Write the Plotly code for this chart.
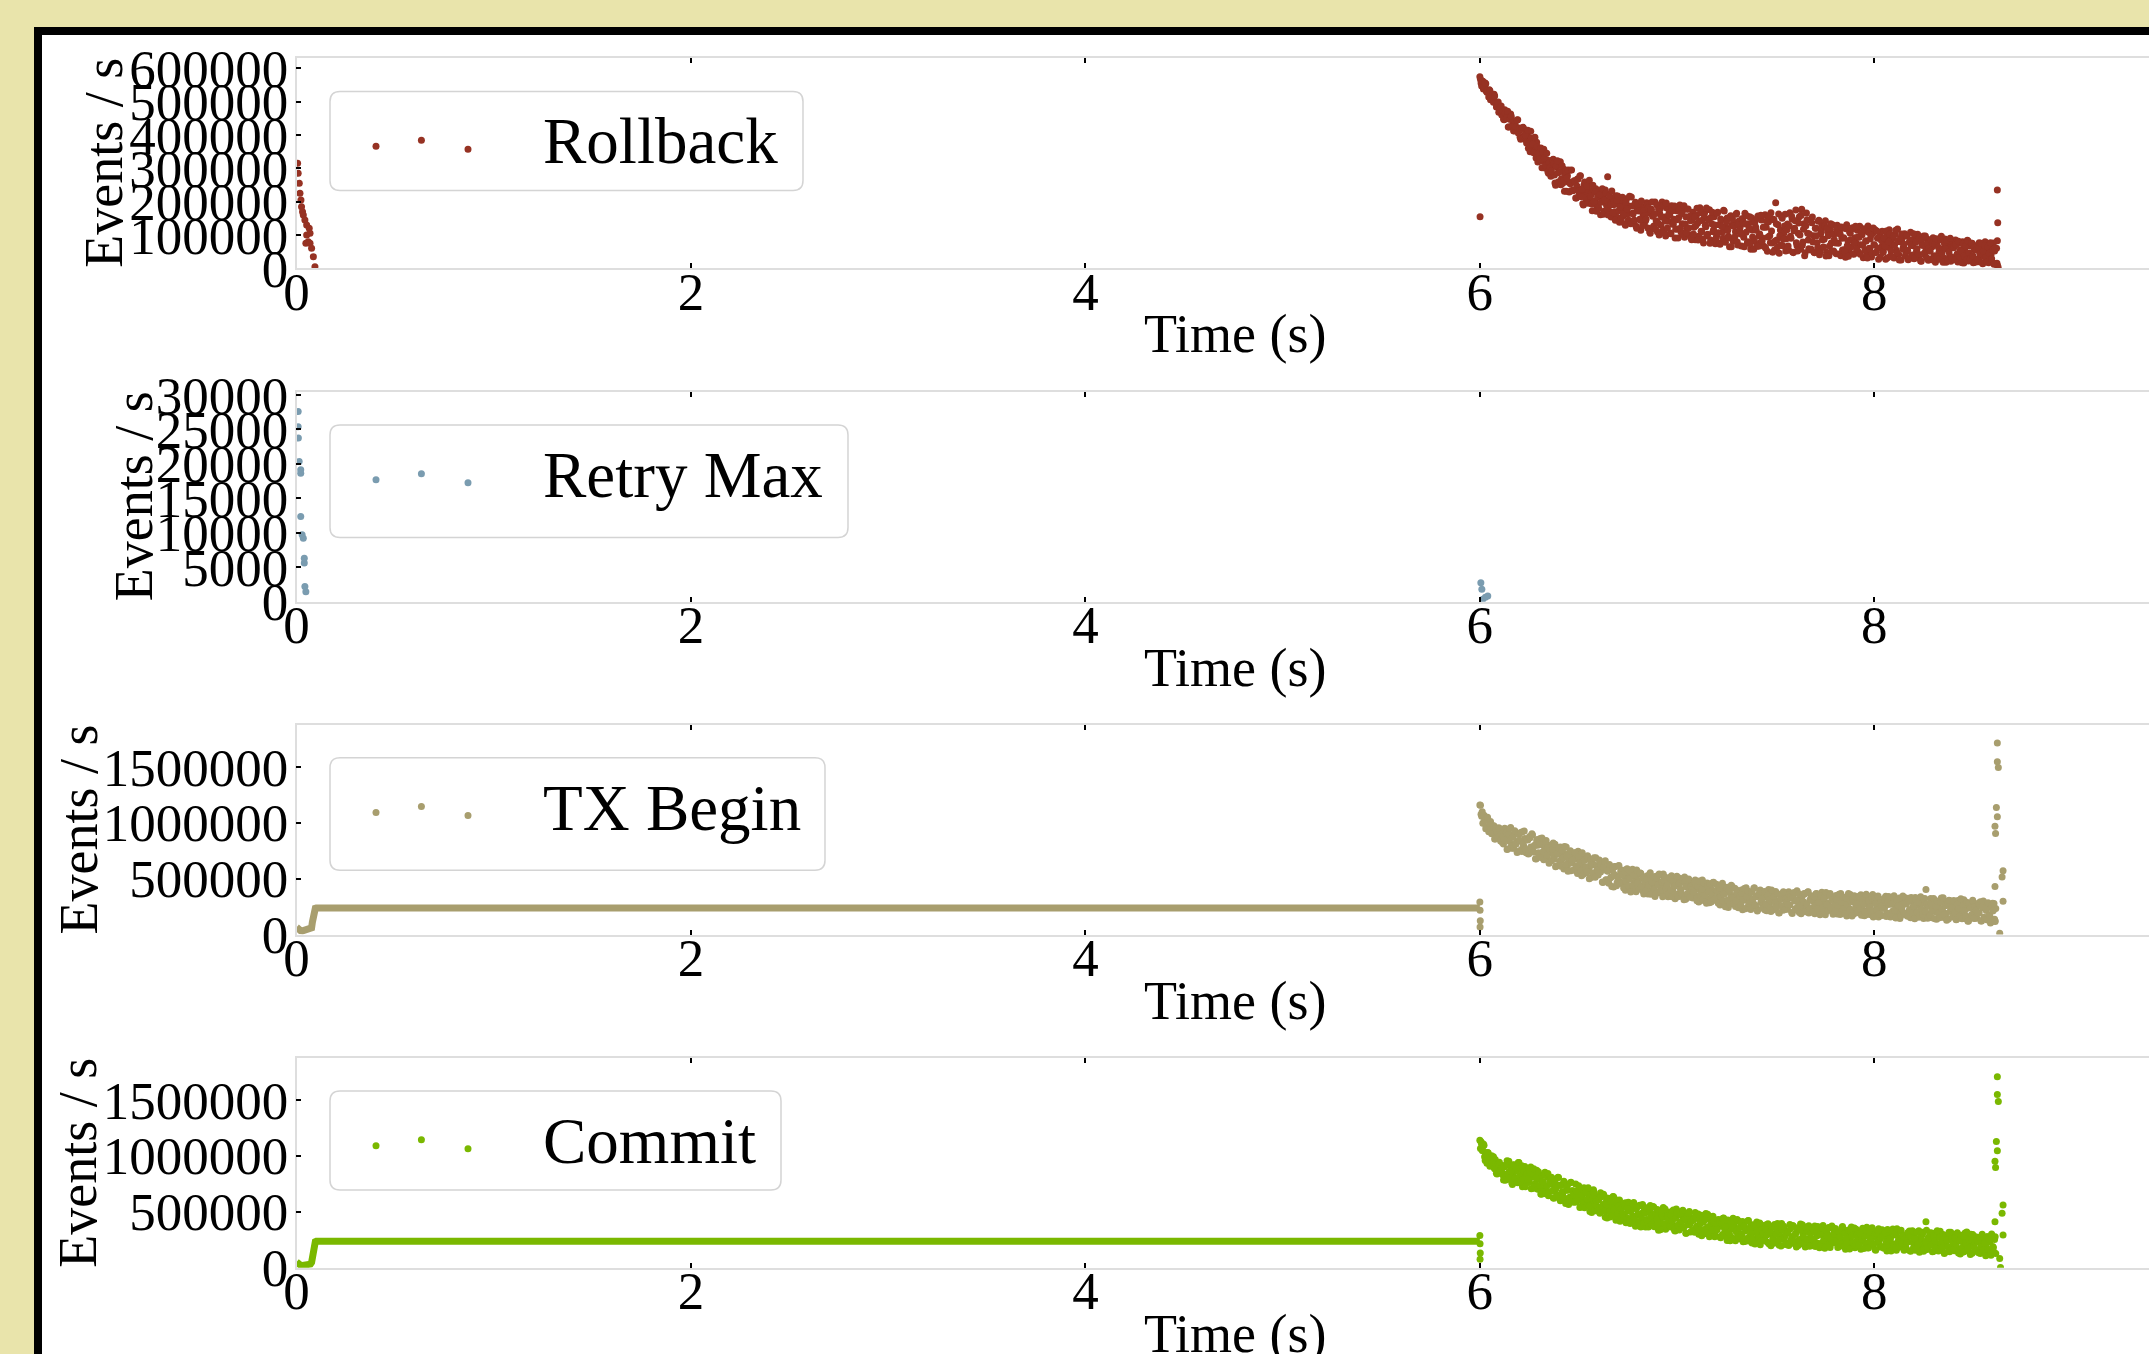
import plotly.graph_objects as go

# ---------------------------------------------------------------- data ---
SERIES = ["Rollback", "Retry Max", "TX Begin", "Commit"]

# Sample times of the post-restart burst (milliseconds). Two interleaved
# sampling grids are recorded for the Rollback / TX Begin / Commit rates.
CLOUD_T_MS = [
    6000, 6006, 6012, 6018, 6024, 6030, 6036, 6042, 6048, 6054, 6060, 6066, 6072, 6078, 6084, 6090, 6096, 6102, 6108, 6114,
    6120, 6126, 6132, 6138, 6144, 6150, 6156, 6162, 6168, 6174, 6180, 6186, 6192, 6198, 6204, 6210, 6216, 6222, 6228, 6234,
    6240, 6246, 6252, 6258, 6264, 6270, 6276, 6282, 6288, 6294, 6300, 6306, 6312, 6318, 6324, 6330, 6336, 6342, 6348, 6354,
    6360, 6366, 6372, 6378, 6384, 6390, 6396, 6402, 6408, 6414, 6420, 6426, 6432, 6438, 6444, 6450, 6456, 6462, 6468, 6474,
    6480, 6486, 6492, 6498, 6504, 6510, 6516, 6522, 6528, 6534, 6540, 6546, 6552, 6558, 6564, 6570, 6576, 6582, 6588, 6594,
    6600, 6606, 6612, 6618, 6624, 6630, 6636, 6642, 6648, 6654, 6660, 6666, 6672, 6678, 6684, 6690, 6696, 6702, 6708, 6714,
    6720, 6726, 6732, 6738, 6744, 6750, 6756, 6762, 6768, 6774, 6780, 6786, 6792, 6798, 6804, 6810, 6816, 6822, 6828, 6834,
    6840, 6846, 6852, 6858, 6864, 6870, 6876, 6882, 6888, 6894, 6900, 6906, 6912, 6918, 6924, 6930, 6936, 6942, 6948, 6954,
    6960, 6966, 6972, 6978, 6984, 6990, 6996, 7002, 7008, 7014, 7020, 7026, 7032, 7038, 7044, 7050, 7056, 7062, 7068, 7074,
    7080, 7086, 7092, 7098, 7104, 7110, 7116, 7122, 7128, 7134, 7140, 7146, 7152, 7158, 7164, 7170, 7176, 7182, 7188, 7194,
    7200, 7206, 7212, 7218, 7224, 7230, 7236, 7242, 7248, 7254, 7260, 7266, 7272, 7278, 7284, 7290, 7296, 7302, 7308, 7314,
    7320, 7326, 7332, 7338, 7344, 7350, 7356, 7362, 7368, 7374, 7380, 7386, 7392, 7398, 7404, 7410, 7416, 7422, 7428, 7434,
    7440, 7446, 7452, 7458, 7464, 7470, 7476, 7482, 7488, 7494, 7500, 7506, 7512, 7518, 7524, 7530, 7536, 7542, 7548, 7554,
    7560, 7566, 7572, 7578, 7584, 7590, 7596, 7602, 7608, 7614, 7620, 7626, 7632, 7638, 7644, 7650, 7656, 7662, 7668, 7674,
    7680, 7686, 7692, 7698, 7704, 7710, 7716, 7722, 7728, 7734, 7740, 7746, 7752, 7758, 7764, 7770, 7776, 7782, 7788, 7794,
    7800, 7806, 7812, 7818, 7824, 7830, 7836, 7842, 7848, 7854, 7860, 7866, 7872, 7878, 7884, 7890, 7896, 7902, 7908, 7914,
    7920, 7926, 7932, 7938, 7944, 7950, 7956, 7962, 7968, 7974, 7980, 7986, 7992, 7998, 8004, 8010, 8016, 8022, 8028, 8034,
    8040, 8046, 8052, 8058, 8064, 8070, 8076, 8082, 8088, 8094, 8100, 8106, 8112, 8118, 8124, 8130, 8136, 8142, 8148, 8154,
    8160, 8166, 8172, 8178, 8184, 8190, 8196, 8202, 8208, 8214, 8220, 8226, 8232, 8238, 8244, 8250, 8256, 8262, 8268, 8274,
    8280, 8286, 8292, 8298, 8304, 8310, 8316, 8322, 8328, 8334, 8340, 8346, 8352, 8358, 8364, 8370, 8376, 8382, 8388, 8394,
    8400, 8406, 8412, 8418, 8424, 8430, 8436, 8442, 8448, 8454, 8460, 8466, 8472, 8478, 8484, 8490, 8496, 8502, 8508, 8514,
    8520, 8526, 8532, 8538, 8544, 8550, 8556, 8562, 8568, 8574, 8580, 8586, 8592, 8598, 8604, 8610, 8616,
]
CLOUD_T2_MS = [
    6003, 6009, 6015, 6021, 6027, 6033, 6039, 6045, 6051, 6057, 6063, 6069, 6075, 6081, 6087, 6093, 6099, 6105, 6111, 6117,
    6123, 6129, 6135, 6141, 6147, 6153, 6159, 6165, 6171, 6177, 6183, 6189, 6195, 6201, 6207, 6213, 6219, 6225, 6231, 6237,
    6243, 6249, 6255, 6261, 6267, 6273, 6279, 6285, 6291, 6297, 6303, 6309, 6315, 6321, 6327, 6333, 6339, 6345, 6351, 6357,
    6363, 6369, 6375, 6381, 6387, 6393, 6399, 6405, 6411, 6417, 6423, 6429, 6435, 6441, 6447, 6453, 6459, 6465, 6471, 6477,
    6483, 6489, 6495, 6501, 6507, 6513, 6519, 6525, 6531, 6537, 6543, 6549, 6555, 6561, 6567, 6573, 6579, 6585, 6591, 6597,
    6603, 6609, 6615, 6621, 6627, 6633, 6639, 6645, 6651, 6657, 6663, 6669, 6675, 6681, 6687, 6693, 6699, 6705, 6711, 6717,
    6723, 6729, 6735, 6741, 6747, 6753, 6759, 6765, 6771, 6777, 6783, 6789, 6795, 6801, 6807, 6813, 6819, 6825, 6831, 6837,
    6843, 6849, 6855, 6861, 6867, 6873, 6879, 6885, 6891, 6897, 6903, 6909, 6915, 6921, 6927, 6933, 6939, 6945, 6951, 6957,
    6963, 6969, 6975, 6981, 6987, 6993, 6999, 7005, 7011, 7017, 7023, 7029, 7035, 7041, 7047, 7053, 7059, 7065, 7071, 7077,
    7083, 7089, 7095, 7101, 7107, 7113, 7119, 7125, 7131, 7137, 7143, 7149, 7155, 7161, 7167, 7173, 7179, 7185, 7191, 7197,
    7203, 7209, 7215, 7221, 7227, 7233, 7239, 7245, 7251, 7257, 7263, 7269, 7275, 7281, 7287, 7293, 7299, 7305, 7311, 7317,
    7323, 7329, 7335, 7341, 7347, 7353, 7359, 7365, 7371, 7377, 7383, 7389, 7395, 7401, 7407, 7413, 7419, 7425, 7431, 7437,
    7443, 7449, 7455, 7461, 7467, 7473, 7479, 7485, 7491, 7497, 7503, 7509, 7515, 7521, 7527, 7533, 7539, 7545, 7551, 7557,
    7563, 7569, 7575, 7581, 7587, 7593, 7599, 7605, 7611, 7617, 7623, 7629, 7635, 7641, 7647, 7653, 7659, 7665, 7671, 7677,
    7683, 7689, 7695, 7701, 7707, 7713, 7719, 7725, 7731, 7737, 7743, 7749, 7755, 7761, 7767, 7773, 7779, 7785, 7791, 7797,
    7803, 7809, 7815, 7821, 7827, 7833, 7839, 7845, 7851, 7857, 7863, 7869, 7875, 7881, 7887, 7893, 7899, 7905, 7911, 7917,
    7923, 7929, 7935, 7941, 7947, 7953, 7959, 7965, 7971, 7977, 7983, 7989, 7995, 8001, 8007, 8013, 8019, 8025, 8031, 8037,
    8043, 8049, 8055, 8061, 8067, 8073, 8079, 8085, 8091, 8097, 8103, 8109, 8115, 8121, 8127, 8133, 8139, 8145, 8151, 8157,
    8163, 8169, 8175, 8181, 8187, 8193, 8199, 8205, 8211, 8217, 8223, 8229, 8235, 8241, 8247, 8253, 8259, 8265, 8271, 8277,
    8283, 8289, 8295, 8301, 8307, 8313, 8319, 8325, 8331, 8337, 8343, 8349, 8355, 8361, 8367, 8373, 8379, 8385, 8391, 8397,
    8403, 8409, 8415, 8421, 8427, 8433, 8439, 8445, 8451, 8457, 8463, 8469, 8475, 8481, 8487, 8493, 8499, 8505, 8511, 8517,
    8523, 8529, 8535, 8541, 8547, 8553, 8559, 8565, 8571, 8577, 8583, 8589, 8595, 8601, 8607, 8613,
]

# Rates in thousands of events per second at CLOUD_T_MS
ROLLBACK_CLOUD_K = [
    575, 556, 561, 538, 547, 554, 528, 530, 536, 506, 520, 504, 522, 498, 484, 497, 468, 484, 487, 465,
    448, 476, 450, 461, 424, 448, 463, 426, 435, 412, 440, 416, 446, 412, 393, 417, 394, 419, 401, 385,
    402, 360, 387, 411, 362, 350, 377, 355, 378, 319, 353, 359, 322, 334, 357, 301, 312, 325, 285, 322,
    276, 305, 327, 280, 249, 305, 287, 254, 320, 269, 255, 297, 280, 231, 278, 258, 294, 233, 258, 235,
    263, 211, 247, 268, 224, 278, 226, 194, 250, 228, 200, 236, 257, 201, 225, 173, 237, 202, 239, 185,
    193, 232, 161, 209, 219, 171, 235, 190, 275, 173, 205, 154, 211, 191, 170, 218, 153, 192, 138, 194,
    204, 157, 180, 129, 209, 164, 186, 138, 214, 165, 143, 186, 126, 173, 194, 147, 114, 184, 160, 131,
    143, 197, 121, 166, 105, 177, 156, 127, 199, 143, 110, 178, 164, 129, 199, 115, 154, 97, 181, 141,
    166, 106, 188, 132, 147, 91, 173, 118, 152, 190, 109, 134, 176, 93, 155, 121, 178, 101, 143, 86,
    168, 123, 86, 159, 135, 96, 182, 111, 144, 76, 168, 125, 98, 148, 176, 85, 134, 110, 155, 74,
    96, 168, 131, 72, 145, 109, 174, 82, 123, 151, 96, 65, 158, 129, 82, 135, 110, 165, 70, 142,
    124, 67, 148, 93, 165, 108, 76, 134, 155, 57, 115, 139, 83, 125, 66, 157, 97, 77, 145, 91,
    66, 161, 123, 51, 140, 98, 167, 76, 147, 55, 197, 85, 131, 45, 115, 155, 68, 107, 162, 89,
    133, 54, 167, 90, 147, 47, 120, 175, 68, 105, 155, 57, 177, 79, 134, 47, 166, 105, 59, 144,
    57, 154, 98, 47, 120, 77, 141, 41, 103, 129, 63, 87, 143, 48, 108, 38, 119, 76, 131, 52,
    104, 44, 129, 75, 114, 38, 90, 121, 56, 33, 131, 83, 49, 105, 65, 122, 42, 92, 76, 114,
    49, 126, 71, 101, 32, 112, 82, 41, 127, 60, 88, 34, 105, 71, 116, 48, 90, 27, 101, 63,
    111, 50, 81, 27, 98, 63, 116, 37, 86, 71, 31, 102, 54, 118, 42, 80, 25, 90, 65, 104,
    48, 98, 26, 79, 108, 38, 68, 29, 90, 52, 102, 32, 81, 21, 69, 97, 41, 55, 88, 24,
    84, 28, 64, 92, 38, 18, 72, 87, 48, 27, 96, 58, 31, 88, 18, 66, 76, 37, 21, 72,
    28, 68, 85, 39, 19, 75, 55, 30, 80, 16, 62, 44, 84, 22, 68, 34, 75, 17, 56, 68,
    61, 20, 77, 35, 69, 14, 50, 80, 26, 56, 17, 71, 41, 20, 76, 52, 14,
]
# ... and at CLOUD_T2_MS
ROLLBACK_CLOUD2_K = [
    567, 547, 561, 545, 556, 531, 534, 514, 533, 512, 520, 498, 517, 497, 485, 499, 479, 484, 460, 471,
    446, 466, 451, 471, 424, 447, 456, 425, 413, 442, 425, 445, 406, 421, 387, 419, 423, 395, 399, 376,
    414, 374, 350, 391, 373, 347, 393, 331, 365, 345, 327, 361, 302, 349, 331, 308, 345, 290, 317, 303,
    292, 325, 315, 256, 306, 323, 260, 290, 251, 308, 262, 231, 293, 270, 295, 229, 254, 295, 233, 262,
    260, 211, 268, 233, 277, 215, 238, 190, 259, 211, 247, 195, 264, 216, 193, 249, 200, 228, 171, 215,
    180, 221, 198, 239, 162, 206, 226, 178, 160, 218, 191, 232, 167, 200, 144, 205, 217, 173, 184, 149,
    213, 162, 134, 197, 178, 145, 216, 134, 187, 163, 144, 198, 120, 191, 172, 144, 202, 128, 173, 158,
    147, 191, 181, 110, 175, 199, 123, 163, 117, 191, 136, 100, 179, 154, 188, 107, 142, 196, 121, 160,
    159, 104, 173, 133, 187, 117, 146, 91, 175, 120, 164, 104, 188, 133, 107, 177, 121, 156, 90, 145,
    103, 155, 128, 180, 85, 142, 167, 110, 88, 161, 129, 181, 102, 144, 75, 153, 168, 116, 130, 89,
    165, 107, 75, 148, 126, 90, 172, 78, 140, 114, 92, 154, 65, 148, 126, 95, 162, 79, 131, 115,
    103, 149, 138, 65, 133, 158, 80, 121, 74, 152, 94, 57, 140, 114, 150, 66, 103, 159, 81, 123,
    124, 61, 142, 94, 158, 77, 112, 48, 146, 82, 134, 64, 163, 98, 69, 150, 87, 127, 52, 116,
    67, 127, 96, 156, 48, 113, 143, 77, 52, 136, 100, 159, 69, 117, 38, 128, 146, 85, 103, 55,
    137, 79, 47, 120, 98, 62, 144, 50, 112, 86, 64, 126, 37, 120, 98, 67, 134, 51, 102, 86,
    76, 117, 107, 43, 102, 124, 55, 92, 50, 119, 68, 36, 109, 86, 118, 44, 75, 126, 57, 94,
    93, 42, 106, 69, 119, 54, 82, 31, 108, 58, 99, 44, 121, 70, 47, 112, 60, 92, 33, 83,
    47, 91, 68, 112, 32, 80, 102, 53, 35, 96, 70, 114, 47, 82, 25, 91, 103, 59, 72, 37,
    98, 54, 29, 85, 69, 40, 104, 32, 79, 59, 43, 90, 22, 86, 69, 45, 97, 32, 72, 60,
    51, 84, 76, 24, 72, 89, 34, 63, 29, 85, 44, 18, 76, 58, 84, 24, 49, 90, 34, 64,
    62, 26, 71, 44, 81, 34, 53, 17, 73, 37, 67, 26, 82, 46, 29, 75, 38, 61, 18, 55,
    28, 60, 44, 75, 17, 52, 68, 33, 19, 64, 45, 77, 29, 54, 12, 60,
]

TX_BEGIN_CLOUD_K = [
    1159, 1077, 1098, 999, 1041, 946, 1044, 952, 972, 1012, 903, 922, 972, 856, 927, 867, 955, 871, 917, 824,
    811, 951, 880, 761, 908, 834, 959, 773, 876, 804, 915, 832, 744, 895, 837, 761, 919, 793, 859, 731,
    853, 721, 878, 784, 902, 740, 796, 679, 836, 798, 698, 859, 728, 802, 669, 760, 842, 694, 726, 798,
    658, 752, 820, 677, 606, 770, 719, 617, 783, 670, 737, 587, 719, 783, 617, 658, 742, 570, 682, 712,
    674, 572, 704, 745, 594, 641, 527, 703, 604, 671, 552, 704, 577, 616, 510, 664, 626, 536, 687, 570,
    533, 667, 559, 627, 465, 598, 661, 489, 567, 458, 613, 514, 579, 425, 609, 526, 466, 614, 479, 565,
    577, 465, 523, 396, 585, 496, 430, 541, 402, 585, 462, 516, 382, 536, 482, 420, 548, 436, 388, 503,
    426, 523, 363, 470, 553, 392, 490, 439, 340, 522, 470, 373, 533, 397, 445, 541, 357, 486, 409, 339,
    475, 345, 526, 402, 432, 320, 489, 449, 361, 503, 403, 341, 465, 515, 316, 425, 368, 479, 340, 435,
    326, 434, 488, 348, 406, 291, 451, 368, 489, 304, 408, 326, 460, 380, 284, 420, 340, 466, 307, 388,
    449, 330, 370, 264, 415, 458, 283, 372, 303, 424, 242, 380, 332, 432, 280, 350, 250, 399, 372, 305,
    272, 399, 221, 355, 306, 418, 244, 371, 325, 223, 383, 281, 418, 252, 338, 223, 354, 398, 284, 238,
    334, 220, 374, 264, 403, 288, 206, 347, 316, 229, 386, 251, 298, 192, 353, 331, 217, 374, 263, 343,
    226, 382, 265, 330, 189, 355, 299, 233, 391, 252, 198, 342, 307, 212, 366, 275, 241, 380, 192, 312,
    348, 235, 294, 186, 365, 251, 322, 202, 268, 378, 216, 308, 177, 346, 282, 220, 366, 239, 325, 189,
    253, 349, 183, 308, 217, 368, 261, 197, 325, 286, 166, 335, 234, 357, 206, 293, 183, 310, 273, 220,
    316, 195, 355, 232, 273, 168, 320, 212, 342, 247, 296, 175, 359, 200, 279, 229, 330, 157, 287, 239,
    170, 295, 237, 342, 191, 269, 325, 157, 294, 211, 347, 176, 256, 310, 202, 144, 299, 272, 182, 332,
    276, 171, 325, 219, 151, 298, 248, 187, 332, 206, 262, 155, 306, 225, 282, 143, 323, 403, 250, 175,
    188, 323, 149, 259, 291, 204, 137, 275, 242, 166, 327, 213, 153, 296, 189, 265, 139, 304, 218, 279,
    284, 186, 246, 136, 305, 195, 153, 263, 197, 310, 142, 231, 272, 120, 251, 160, 292, 186, 144, 261,
    146, 270, 194, 294, 120, 239, 155, 279, 214, 130, 249, 164, 269, 117, 216, 136, 232,
]
TX_BEGIN_CLOUD2_K = [
    1157, 1058, 996, 1068, 1024, 961, 1050, 920, 985, 941, 904, 974, 854, 950, 917, 871, 949, 838, 899, 874,
    848, 940, 916, 766, 900, 950, 789, 870, 773, 928, 809, 733, 898, 844, 914, 743, 813, 926, 766, 848,
    845, 725, 867, 779, 890, 738, 797, 677, 851, 731, 821, 690, 864, 744, 687, 830, 709, 779, 637, 749,
    661, 762, 705, 808, 614, 726, 776, 656, 610, 754, 687, 788, 626, 708, 567, 721, 749, 640, 668, 579,
    733, 613, 547, 691, 645, 568, 732, 539, 662, 605, 560, 683, 500, 665, 619, 552, 686, 513, 615, 580,
    555, 646, 622, 470, 603, 653, 491, 571, 473, 627, 507, 430, 595, 539, 608, 437, 506, 618, 457, 538,
    535, 417, 561, 475, 588, 438, 499, 381, 557, 439, 531, 402, 578, 460, 405, 550, 431, 503, 363, 477,
    396, 495, 443, 542, 361, 469, 518, 407, 365, 504, 443, 541, 390, 469, 337, 486, 515, 413, 442, 362,
    510, 398, 337, 475, 434, 362, 521, 339, 458, 406, 365, 483, 312, 470, 429, 367, 496, 334, 433, 402,
    378, 466, 445, 303, 431, 479, 328, 406, 314, 462, 351, 279, 437, 385, 454, 292, 360, 468, 317, 395,
    392, 280, 418, 337, 445, 303, 361, 249, 418, 306, 394, 272, 440, 329, 277, 415, 303, 371, 240, 348,
    265, 364, 313, 412, 231, 340, 389, 278, 237, 376, 315, 414, 263, 342, 211, 360, 389, 288, 317, 236,
    384, 273, 212, 352, 311, 240, 399, 219, 338, 287, 246, 366, 195, 354, 313, 253, 382, 221, 320, 290,
    269, 359, 338, 198, 327, 377, 227, 306, 216, 365, 255, 185, 344, 294, 363, 203, 273, 382, 232, 312,
    310, 200, 339, 259, 368, 228, 287, 177, 346, 236, 326, 205, 375, 264, 214, 353, 243, 312, 182, 292,
    211, 311, 260, 360, 180, 289, 339, 229, 188, 328, 268, 367, 217, 297, 166, 316, 346, 245, 275, 195,
    343, 233, 172, 312, 271, 201, 360, 180, 299, 249, 208, 328, 157, 317, 276, 216, 345, 185, 284, 254,
    233, 323, 302, 162, 291, 341, 190, 270, 179, 329, 219, 148, 308, 257, 327, 166, 236, 345, 195, 275,
    273, 163, 302, 222, 331, 191, 250, 140, 309, 199, 289, 168, 338, 227, 177, 316, 206, 275, 145, 255,
    173, 273, 222, 322, 141, 251, 300, 190, 150, 289, 229, 328, 178, 258, 127, 277, 306, 206, 236, 156,
    304, 194, 133, 273, 232, 162, 321, 141, 260, 210, 170, 289, 119, 278, 238, 177, 307, 146, 246, 216,
    194, 283, 262, 121, 250, 299, 148, 227, 136, 285, 174, 102, 261, 210, 278, 116,
]

COMMIT_CLOUD_K = [
    1140, 1126, 1049, 1107, 992, 1028, 933, 1027, 955, 914, 1001, 939, 897, 967, 845, 916, 847, 920, 868, 915,
    784, 906, 835, 956, 792, 862, 914, 758, 841, 918, 801, 867, 759, 940, 809, 877, 724, 838, 904, 758,
    883, 803, 761, 901, 809, 710, 833, 751, 872, 703, 793, 823, 656, 765, 699, 853, 725, 811, 644, 768,
    783, 745, 625, 790, 699, 650, 809, 738, 598, 741, 666, 772, 598, 693, 737, 565, 629, 765, 689, 587,
    639, 749, 591, 673, 704, 543, 641, 595, 715, 555, 668, 593, 685, 502, 608, 554, 698, 649, 510, 605,
    635, 541, 670, 514, 566, 643, 451, 597, 526, 617, 454, 555, 471, 635, 564, 425, 579, 503, 605, 463,
    550, 431, 473, 581, 447, 505, 553, 395, 523, 465, 582, 395, 528, 413, 473, 558, 363, 486, 422, 530,
    363, 432, 506, 374, 556, 457, 406, 540, 377, 471, 521, 336, 432, 481, 380, 538, 453, 343, 500, 402,
    463, 365, 502, 387, 442, 329, 526, 472, 346, 404, 502, 356, 442, 478, 307, 415, 383, 503, 320, 447,
    421, 336, 493, 363, 439, 299, 393, 469, 331, 409, 303, 484, 359, 438, 276, 387, 325, 461, 405, 293,
    339, 402, 426, 274, 370, 296, 444, 341, 386, 244, 422, 297, 363, 271, 442, 395, 240, 343, 300, 415,
    257, 301, 413, 367, 234, 347, 259, 423, 284, 384, 222, 322, 366, 237, 409, 295, 342, 206, 382, 253,
    357, 276, 385, 227, 339, 360, 197, 302, 253, 387, 228, 314, 343, 201, 281, 395, 254, 363, 207, 320,
    319, 199, 386, 246, 279, 370, 215, 309, 343, 198, 252, 390, 231, 296, 351, 185, 325, 259, 375, 219,
    197, 333, 246, 372, 225, 286, 349, 179, 309, 216, 378, 267, 200, 319, 247, 360, 180, 287, 227, 340,
    226, 279, 315, 187, 297, 209, 359, 236, 336, 166, 286, 324, 195, 259, 365, 213, 304, 178, 343, 247,
    248, 296, 164, 337, 234, 284, 203, 362, 176, 297, 246, 341, 209, 317, 163, 268, 225, 348, 186, 307,
    340, 190, 279, 305, 149, 206, 313, 258, 177, 347, 211, 293, 155, 322, 265, 186, 336, 230, 287, 162,
    183, 258, 232, 329, 148, 286, 228, 308, 156, 262, 206, 331, 185, 245, 294, 146, 213, 411, 163, 268,
    286, 225, 310, 145, 269, 193, 298, 155, 215, 327, 166, 240, 273, 135, 200, 287, 253, 143, 316, 181,
    269, 152, 193, 298, 165, 255, 123, 274, 232, 142, 310, 196, 261, 150, 191, 300, 130, 239, 178, 276,
    252, 153, 230, 128, 278, 171, 253, 132, 214, 277, 151, 232, 111, 283, 180, 253, 126,
]
COMMIT_CLOUD2_K = [
    1066, 1104, 1048, 1094, 958, 1013, 1031, 946, 907, 987, 937, 993, 886, 931, 839, 930, 942, 871, 886, 828,
    901, 782, 926, 840, 953, 802, 863, 744, 921, 802, 894, 764, 940, 822, 767, 911, 792, 863, 724, 837,
    792, 883, 857, 705, 837, 886, 723, 803, 703, 857, 736, 659, 822, 766, 834, 662, 730, 842, 679, 760,
    808, 688, 621, 766, 720, 642, 807, 614, 736, 680, 634, 757, 574, 739, 693, 626, 760, 587, 689, 653,
    586, 687, 631, 733, 539, 652, 701, 581, 536, 679, 613, 714, 552, 634, 493, 647, 675, 566, 594, 506,
    608, 488, 632, 544, 656, 505, 565, 445, 621, 501, 592, 461, 637, 517, 461, 605, 485, 555, 415, 527,
    482, 575, 551, 401, 535, 586, 425, 507, 409, 565, 446, 371, 536, 482, 552, 382, 452, 566, 405, 488,
    536, 425, 363, 502, 461, 389, 548, 367, 485, 434, 393, 511, 340, 499, 457, 396, 525, 363, 462, 432,
    370, 468, 417, 515, 334, 442, 491, 379, 338, 476, 415, 513, 362, 440, 309, 457, 486, 384, 413, 332,
    428, 316, 455, 373, 481, 339, 398, 286, 454, 342, 431, 309, 477, 365, 314, 452, 340, 408, 277, 385,
    342, 430, 408, 267, 395, 443, 291, 369, 278, 426, 314, 242, 400, 349, 417, 255, 323, 431, 280, 358,
    405, 294, 233, 372, 331, 260, 419, 238, 357, 306, 265, 384, 213, 372, 331, 270, 399, 238, 337, 306,
    244, 343, 292, 392, 211, 320, 369, 259, 218, 357, 296, 396, 245, 324, 193, 343, 372, 271, 300, 220,
    319, 209, 348, 268, 377, 237, 297, 186, 356, 245, 335, 215, 384, 274, 223, 363, 253, 322, 192, 302,
    260, 350, 329, 189, 318, 368, 217, 297, 206, 356, 246, 175, 335, 284, 354, 193, 263, 372, 222, 302,
    351, 241, 180, 320, 280, 209, 369, 189, 308, 258, 218, 337, 167, 327, 286, 226, 356, 195, 295, 265,
    203, 303, 252, 352, 171, 281, 330, 220, 179, 319, 258, 358, 207, 287, 156, 306, 335, 235, 264, 184,
    283, 173, 312, 232, 341, 201, 260, 150, 319, 209, 299, 178, 348, 237, 187, 326, 216, 285, 155, 265,
    223, 313, 292, 152, 281, 331, 180, 260, 169, 319, 209, 138, 298, 247, 317, 156, 226, 335, 185, 265,
    313, 203, 142, 282, 241, 171, 330, 150, 270, 219, 179, 298, 128, 288, 247, 187, 316, 156, 256, 226,
    164, 264, 213, 313, 132, 242, 291, 181, 140, 280, 220, 319, 169, 248, 118, 267, 297, 196, 226, 146,
    244, 133, 272, 191, 300, 159, 218, 107, 276, 165, 254, 132, 301, 190, 138, 276,
]

# Rollback samples outside the burst (seconds, thousands of events / s)
ROLLBACK_EDGE_T = [0.005, 0.008, 0.0135, 0.017, 0.022, 0.025, 0.030, 0.034, 0.042, 0.047,
                   0.051, 0.051, 0.059, 0.064, 0.068, 0.068, 0.076, 0.085, 0.093, 6.001,
                   8.624, 8.626, 8.624, 8.620, 8.622, 8.625, 8.628]
ROLLBACK_EDGE_K = [315, 285, 255, 225, 205, 185, 170, 160, 145, 75,
                   130, 100, 80, 120, 105, 75, 60, 35, 5, 155,
                   235, 137, 83, 60, 15, 8, 3]

# Retry Max samples (seconds, events / s)
RETRY_MAX_T = [0.008, 0.008, 0.009, 0.013, 0.021, 0.021, 0.021, 0.028, 0.034, 0.039,
               0.039, 0.042, 0.047, 6.005, 6.010, 6.015, 6.028, 6.040]
RETRY_MAX_V = [27600, 25400, 23750, 20350, 19150, 18650, 12350, 9700, 9200, 6300,
               5600, 2200, 1450, 2760, 1800, 350, 640, 830]

# Warm-up ramp and steady phase (seconds, thousands of events / s)
STEADY_T = [0.000, 0.005, 0.010, 0.020, 0.030, 0.040, 0.050, 0.060, 0.070, 0.076,
            0.080, 0.085, 0.090, 0.095, 0.100, 1.0, 2.0, 3.0, 4.0, 5.0, 6.000]
TX_BEGIN_STEADY_K = [65, 50, 40, 35, 32, 35, 38, 42, 45, 60,
                     110, 170, 215, 235, 238, 238, 238, 238, 238, 238, 238]
COMMIT_STEADY_K = [50, 38, 28, 22, 20, 22, 25, 28, 32, 48,
                   100, 165, 212, 233, 237, 237, 237, 237, 237, 237, 237]

# Restart drop at 6 s and the final flush spike (seconds, thousands of events / s)
TX_BEGIN_EDGE_T = [6.000, 6.001, 6.002, 6.001, 8.600, 8.612, 8.612, 8.612, 8.615, 8.619,
                   8.624, 8.624, 8.624, 8.629, 8.636, 8.648, 8.653, 8.653]
TX_BEGIN_EDGE_K = [291, 216, 123, 67, 280, 969, 429, 123, 905, 1137,
                   1714, 1547, 1055, 1495, 12, 514, 570, 298]
COMMIT_EDGE_T = [6.000, 6.001, 6.002, 6.001, 8.612, 8.612, 8.615, 8.619, 8.624, 8.624,
                 8.624, 8.629, 8.636, 8.640, 8.648, 8.653, 8.653]
COMMIT_EDGE_K = [288, 214, 131, 75, 953, 411, 897, 1128, 1707, 1550,
                 1046, 1487, 83, 1, 486, 561, 292]

X_TICKS = [0, 2, 4, 6, 8]
X_TICK_TEXT = ["0", "2", "4", "6", "8"]
Y_TICKS = {
    "Rollback": [0, 100000, 200000, 300000, 400000, 500000, 600000],
    "Retry Max": [0, 5000, 10000, 15000, 20000, 25000, 30000],
    "TX Begin": [0, 500000, 1000000, 1500000],
    "Commit": [0, 500000, 1000000, 1500000],
}
X_TITLE = "Time (s)"
Y_TITLE = "Events / s"

# --------------------------------------------------------------- style ---
W, H = 2149, 1354
SERIF = "Liberation Serif, Times New Roman, Times, serif"
BEIGE = "#E9E4AB"
COLORS = {
    "Rollback": "#963223",
    "Retry Max": "#7A9CB0",
    "TX Begin": "#A89E6E",
    "Commit": "#7AB800",
}
PANEL_TOPS = [58.3, 391.7, 724.5, 1057.7]
PANEL_H = 210.0
PLOT_LEFT = 296.6
X_MAX = 9.393
Y_MAX = {"Rollback": 630000, "Retry Max": 30480, "TX Begin": 1880000, "Commit": 1878000}
Y_TITLE_X = {"Rollback": 104.5, "Retry Max": 133.5, "TX Begin": 78.0, "Commit": 78.0}
LEGEND_RIGHT = {"Rollback": 803, "Retry Max": 848, "TX Begin": 825, "Commit": 781}
LEGEND_H = {"Rollback": 99, "Retry Max": 112.5, "TX Begin": 112.5, "Commit": 99}
TICK_SIZE = 53
TITLE_SIZE = 54
LEGEND_SIZE = 65
MARKER = 7
LINE_W = 7


def fx(px):
    return px / W


def fy(py):
    return 1 - py / H


def rounded_box(x0, y0, x1, y1, r):
    def p(x, y):
        return f"{fx(x):.6f},{fy(y):.6f}"

    return " ".join([
        f"M{p(x0 + r, y0)}", f"L{p(x1 - r, y0)}", f"Q{p(x1, y0)} {p(x1, y0 + r)}",
        f"L{p(x1, y1 - r)}", f"Q{p(x1, y1)} {p(x1 - r, y1)}",
        f"L{p(x0 + r, y1)}", f"Q{p(x0, y1)} {p(x0, y1 - r)}",
        f"L{p(x0, y0 + r)}", f"Q{p(x0, y0)} {p(x0 + r, y0)}", "Z",
    ])


def seconds(ms_list):
    return [t / 1000.0 for t in ms_list]


def per_second(k_list):
    return [k * 1000 for k in k_list]


cloud_t = seconds(CLOUD_T_MS) + seconds(CLOUD_T2_MS)

fig = go.Figure()


def marker_trace(x, y, name, idx):
    sfx = "" if idx == 0 else str(idx + 1)
    return go.Scatter(
        x=x, y=y, mode="markers", name=name, showlegend=False,
        marker=dict(size=MARKER, color=COLORS[name], line=dict(width=0)),
        xaxis="x" + sfx, yaxis="y" + sfx, hoverinfo="skip",
    )


def line_trace(x, y, name, idx):
    sfx = "" if idx == 0 else str(idx + 1)
    return go.Scatter(
        x=x, y=y, mode="lines", name=name, showlegend=False,
        line=dict(width=LINE_W, color=COLORS[name]),
        xaxis="x" + sfx, yaxis="y" + sfx, hoverinfo="skip",
    )


# Rollback
fig.add_trace(marker_trace(
    ROLLBACK_EDGE_T + cloud_t,
    per_second(ROLLBACK_EDGE_K + ROLLBACK_CLOUD_K + ROLLBACK_CLOUD2_K), "Rollback", 0))
# Retry Max
fig.add_trace(marker_trace(RETRY_MAX_T, RETRY_MAX_V, "Retry Max", 1))
# TX Begin
fig.add_trace(line_trace(STEADY_T, per_second(TX_BEGIN_STEADY_K), "TX Begin", 2))
fig.add_trace(marker_trace(
    TX_BEGIN_EDGE_T + cloud_t,
    per_second(TX_BEGIN_EDGE_K + TX_BEGIN_CLOUD_K + TX_BEGIN_CLOUD2_K), "TX Begin", 2))
# Commit
fig.add_trace(line_trace(STEADY_T, per_second(COMMIT_STEADY_K), "Commit", 3))
fig.add_trace(marker_trace(
    COMMIT_EDGE_T + cloud_t,
    per_second(COMMIT_EDGE_K + COMMIT_CLOUD_K + COMMIT_CLOUD2_K), "Commit", 3))

layout = dict(
    width=W, height=H,
    margin=dict(l=0, r=0, t=0, b=0, pad=0),
    paper_bgcolor=BEIGE,
    plot_bgcolor="white",
    showlegend=False,
    font=dict(family=SERIF, color="black"),
)

shapes = [
    # white page with a heavy black frame
    dict(type="rect", xref="paper", yref="paper", layer="below",
         x0=fx(38), x1=fx(W + 200), y0=fy(H + 200), y1=fy(31),
         line=dict(color="black", width=8), fillcolor="white"),
]
annotations = []

for i, name in enumerate(SERIES):
    sfx = "" if i == 0 else str(i + 1)
    top = PANEL_TOPS[i]
    bottom = top + PANEL_H
    ticks = Y_TICKS[name]
    layout["xaxis" + sfx] = dict(
        domain=[fx(PLOT_LEFT), 1.0], range=[0, X_MAX], anchor="y" + sfx,
        tickmode="array", tickvals=X_TICKS, ticktext=X_TICK_TEXT,
        ticks="inside", ticklen=5, tickwidth=1.5, tickcolor="black",
        showline=True, linecolor="#dedede", linewidth=2, mirror="allticks",
        showgrid=False, zeroline=False, automargin=False,
        tickfont=dict(family=SERIF, size=TICK_SIZE, color="black"),
        ticklabelstandoff=-24,
    )
    layout["yaxis" + sfx] = dict(
        domain=[fy(bottom), fy(top)], range=[0, Y_MAX[name]], anchor="x" + sfx,
        tickmode="array", tickvals=ticks, ticktext=[str(v) for v in ticks],
        ticks="inside", ticklen=5, tickwidth=1.5, tickcolor="black",
        showline=True, linecolor="#dedede", linewidth=1.5, mirror=False,
        showgrid=False, zeroline=False, automargin=False,
        tickfont=dict(family=SERIF, size=TICK_SIZE, color="black"),
        ticklabelstandoff=-4,
    )

    # axis titles
    annotations.append(dict(
        text=X_TITLE, xref="paper", yref="paper", x=fx(1235.5), y=fy(bottom + 66),
        xanchor="center", yanchor="middle", showarrow=False,
        font=dict(family=SERIF, size=TITLE_SIZE, color="black")))
    annotations.append(dict(
        text=Y_TITLE, xref="paper", yref="paper", x=fx(Y_TITLE_X[name]),
        y=fy(top + PANEL_H / 2), xanchor="center", yanchor="middle",
        textangle=-90, showarrow=False,
        font=dict(family=SERIF, size=TITLE_SIZE, color="black")))

    # legend: rounded frame, three scatter keys and label
    box_top = top + 33.3
    shapes.append(dict(
        type="path", xref="paper", yref="paper", layer="above",
        path=rounded_box(330, box_top, LEGEND_RIGHT[name], box_top + LEGEND_H[name], 10),
        fillcolor="white", line=dict(color="#d4d4d4", width=1.5)))
    for kx, ky in ((376, top + 88), (421.4, top + 82), (468, top + 91)):
        shapes.append(dict(
            type="circle", xref="paper", yref="paper", layer="above",
            x0=fx(kx - 3.5), x1=fx(kx + 3.5), y0=fy(ky + 3.5), y1=fy(ky - 3.5),
            fillcolor=COLORS[name], line=dict(width=0)))
    annotations.append(dict(
        text=name, xref="paper", yref="paper", x=fx(541), y=fy(top + 83),
        xanchor="left", yanchor="middle", showarrow=False,
        font=dict(family=SERIF, size=LEGEND_SIZE, color="black")))

layout["shapes"] = shapes
layout["annotations"] = annotations
fig.update_layout(layout)

fig.write_html(
    "out.html",
    config=dict(displayModeBar=False),
    post_script="document.body.style.margin='0';document.body.style.overflow='hidden';",
)
